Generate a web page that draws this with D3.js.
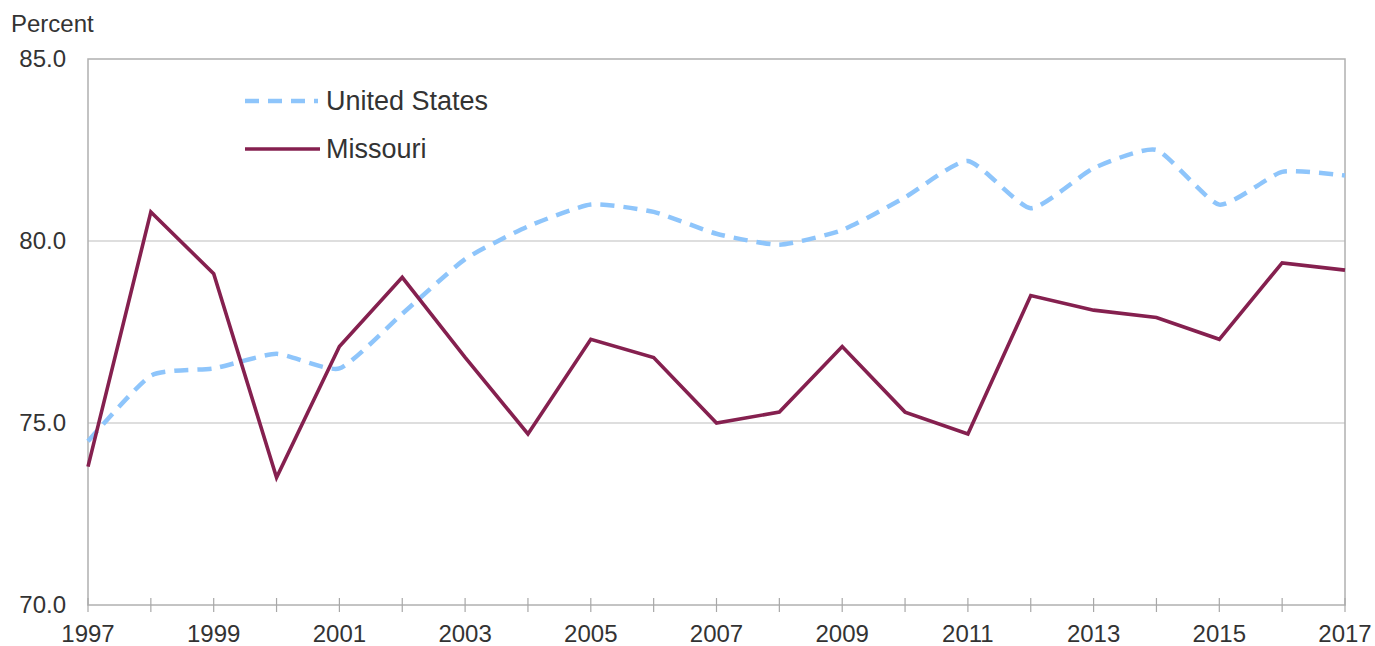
<!DOCTYPE html>
<html>
<head>
<meta charset="utf-8">
<script src="https://cdn.jsdelivr.net/npm/d3@7"></script>
<style>
  body { margin: 0; background: #fff; }
  svg text { font-family: "Liberation Sans", Arial, sans-serif; fill: #333; }
</style>
</head>
<body>
<div id="chart"></div>
<script>
// data
var years = [1997,1998,1999,2000,2001,2002,2003,2004,2005,2006,2007,2008,2009,2010,2011,2012,2013,2014,2015,2016,2017];
var usValues = [74.5,76.3,76.5,76.9,76.5,78.0,79.5,80.4,81.0,80.8,80.2,79.9,80.3,81.2,82.2,80.9,82.0,82.5,81.0,81.9,81.8];
var moValues = [73.8,80.8,79.1,73.5,77.1,79.0,76.8,74.7,77.3,76.8,75.0,75.3,77.1,75.3,74.7,78.5,78.1,77.9,77.3,79.4,79.2];
var yTicks = [70, 75, 80, 85];
var xLabelYears = [1997,1999,2001,2003,2005,2007,2009,2011,2013,2015,2017];
var seriesNames = ["United States", "Missouri"];

var width = 1375, height = 646;
var pLeft = 88, pRight = 1345, pTop = 59, pBottom = 605;

var svg = d3.select("#chart").append("svg")
  .attr("width", width).attr("height", height);

var x = d3.scaleLinear().domain([1997, 2017]).range([pLeft, pRight]);
var y = d3.scaleLinear().domain([70, 85]).range([pBottom, pTop]);

// gridlines
svg.selectAll(".grid")
  .data(yTicks.filter(function(d) { return d > 70 && d < 85; }))
  .enter().append("line")
  .attr("x1", pLeft).attr("x2", pRight)
  .attr("y1", function(d) { return y(d); })
  .attr("y2", function(d) { return y(d); })
  .style("stroke", "#bdbdbd").style("stroke-width", 1.2);

// plot frame
svg.append("rect")
  .attr("x", pLeft).attr("y", pTop)
  .attr("width", pRight - pLeft).attr("height", pBottom - pTop)
  .style("fill", "none").style("stroke", "#b0b0b0").style("stroke-width", 1.5);

// x ticks crossing the bottom axis
svg.selectAll(".xtick")
  .data(years)
  .enter().append("line")
  .attr("x1", function(d) { return x(d); })
  .attr("x2", function(d) { return x(d); })
  .attr("y1", pBottom - 7).attr("y2", pBottom + 7)
  .style("stroke", "#a8a8a8").style("stroke-width", 1.2);

svg.selectAll(".xlabel")
  .data(xLabelYears)
  .enter().append("text")
  .attr("x", function(d) { return x(d); })
  .attr("y", 642)
  .attr("text-anchor", "middle")
  .style("font-size", "24px")
  .text(function(d) { return d; });

svg.selectAll(".ylabel")
  .data(yTicks)
  .enter().append("text")
  .attr("x", 66)
  .attr("y", function(d) { return y(d) + 8; })
  .attr("text-anchor", "end")
  .style("font-size", "24px")
  .text(function(d) { return d.toFixed(1); });

svg.append("text")
  .attr("x", 11).attr("y", 32)
  .style("font-size", "24px")
  .text("Percent");

// lines
var usLine = d3.line()
  .x(function(d, i) { return x(years[i]); })
  .y(function(d) { return y(d); })
  .curve(d3.curveCardinal.tension(0.45));

var moLine = d3.line()
  .x(function(d, i) { return x(years[i]); })
  .y(function(d) { return y(d); });

var usColor = "#8ec5fb", moColor = "#85204f";

svg.append("path")
  .attr("d", usLine(usValues))
  .style("fill", "none").style("stroke", usColor)
  .style("stroke-width", 4.5).style("stroke-dasharray", "14,9");

svg.append("path")
  .attr("d", moLine(moValues))
  .style("fill", "none").style("stroke", moColor)
  .style("stroke-width", 3.6).style("stroke-linejoin", "miter");

// legend
var legend = svg.append("g");
legend.append("line")
  .attr("x1", 245).attr("x2", 318).attr("y1", 101).attr("y2", 101)
  .style("stroke", usColor).style("stroke-width", 4.5).style("stroke-dasharray", "14,9");
legend.append("line")
  .attr("x1", 245).attr("x2", 320).attr("y1", 149).attr("y2", 149)
  .style("stroke", moColor).style("stroke-width", 3.6);
legend.append("text").attr("x", 326).attr("y", 110)
  .style("font-size", "27px").text(seriesNames[0]);
legend.append("text").attr("x", 326).attr("y", 158)
  .style("font-size", "27px").text(seriesNames[1]);
</script>
</body>
</html>
